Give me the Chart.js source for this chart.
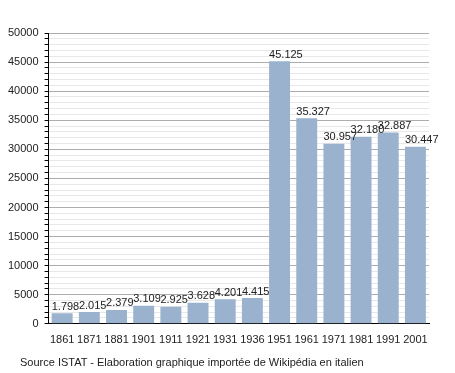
<!DOCTYPE html>
<html>
<head>
<meta charset="utf-8">
<script src="https://cdn.jsdelivr.net/npm/chart.js@4/dist/chart.umd.min.js"></script>
<style>
  html, body { margin: 0; padding: 0; background: #fff; }
  #wrap { position: relative; width: 455px; height: 373px; }
  #source {
    position: absolute; left: 20px; top: 356px;
    font: 11px "Liberation Sans", Arial, sans-serif; color: #222;
    white-space: nowrap;
  }
</style>
</head>
<body>
<div id="wrap">
  <canvas id="popChart" width="455" height="373"></canvas>
  <div id="source">Source ISTAT - Elaboration graphique importée de Wikipédia en italien</div>
</div>
<script>
const years = ['1861', '1871', '1881', '1901', '1911', '1921', '1931', '1936', '1951', '1961', '1971', '1981', '1991', '2001']
const population = [1798, 2015, 2379, 3109, 2925, 3628, 4201, 4415, 45125, 35327, 30957, 32180, 32887, 30447]

// thousands separator with a dot, like the original
const fmt = v => String(v).replace(/\B(?=(\d{3})+(?!\d))/g, '.')

const barLabels = {
  id: 'barLabels',
  afterDatasetsDraw(chart) {
    const ctx = chart.ctx
    const meta = chart.getDatasetMeta(0)
    ctx.save()
    ctx.font = '11px "Liberation Sans", Arial, sans-serif'
    ctx.fillStyle = '#222'
    ctx.textAlign = 'left'
    ctx.textBaseline = 'alphabetic'
    meta.data.forEach((bar, i) => {
      ctx.fillText(fmt(population[i]), bar.x - bar.width / 2, bar.y - 3.5)
    })
    ctx.restore()
  }
}

Chart.defaults.font.family = '"Liberation Sans", Arial, sans-serif'
Chart.defaults.font.size = 11
Chart.defaults.color = '#222'

new Chart(document.getElementById('popChart'), {
  type: 'bar',
  data: {
    labels: years,
    datasets: [{
      data: population,
      backgroundColor: '#9ab2ce',
      categoryPercentage: 1,
      barPercentage: 0.77
    }]
  },
  options: {
    responsive: false,
    animation: false,
    layout: { padding: { left: 2, right: 26, top: 33, bottom: 24 } },
    plugins: {
      legend: { display: false },
      tooltip: { enabled: false }
    },
    scales: {
      x: {
        grid: { display: false },
        border: { color: '#000', width: 1 },
        ticks: { padding: 2, color: '#222', maxRotation: 0, minRotation: 0, autoSkip: false }
      },
      y: {
        min: 0,
        max: 50000,
        border: { color: '#000', width: 1 },
        grid: {
          color: c => (c.tick && c.tick.value % 5000 === 0) ? '#adadad' : '#e8e8e8',
          tickColor: '#000',
          tickLength: 4
        },
        ticks: {
          stepSize: 1000,
          autoSkip: false,
          padding: 6,
          color: '#222',
          callback: v => v % 5000 === 0 ? String(v) : ''
        }
      }
    }
  },
  plugins: [barLabels]
})
</script>
</body>
</html>
